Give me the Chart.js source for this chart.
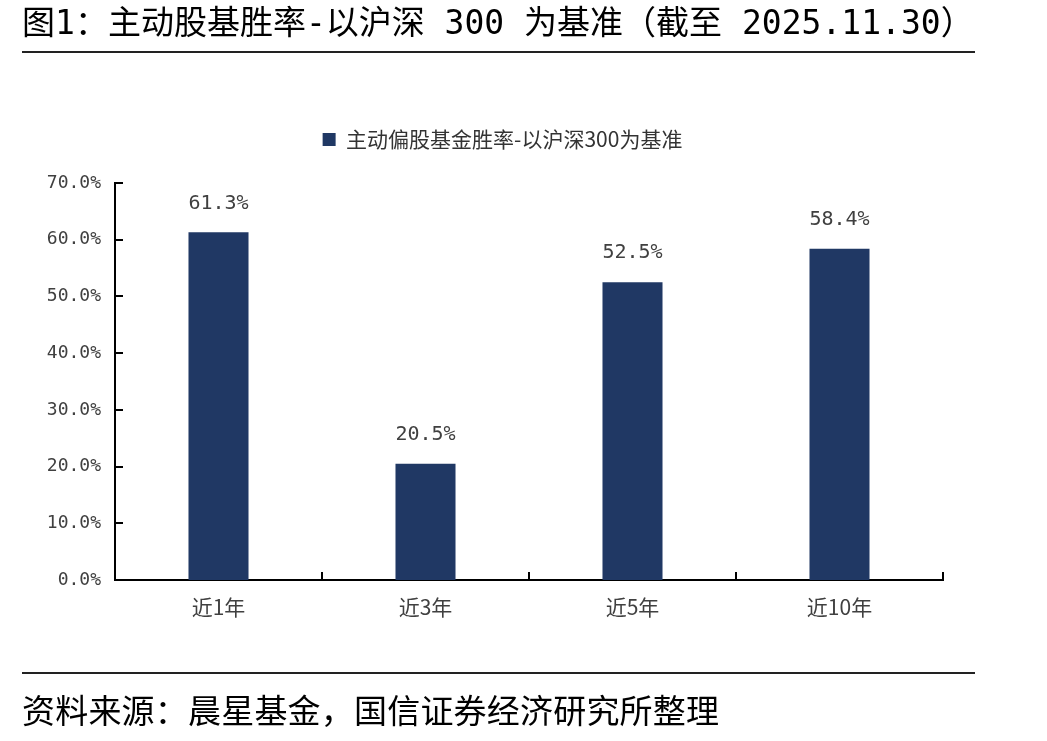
<!DOCTYPE html>
<html>
<head>
<meta charset="utf-8">
<script src="https://cdn.jsdelivr.net/npm/chart.js@4/dist/chart.umd.min.js"></script>
<style>
  html, body { margin:0; padding:0; background:#fff; }
  #wrap { position:relative; width:1047px; height:741px; overflow:hidden; background:#fff; }
  #c { position:absolute; left:0; top:0; }
  .title { position:absolute; left:22px; top:4px; font-family:"Noto Sans CJK SC","Noto Sans",sans-serif; font-size:33px; line-height:33px; color:#000; white-space:nowrap; }
  .title .m { font-family:"DejaVu Sans Mono","Liberation Mono",monospace; white-space:pre; }
  .foot { position:absolute; left:22px; top:693px; font-family:"Noto Sans CJK SC","Noto Sans",sans-serif; font-size:33px; line-height:33px; color:#000; white-space:nowrap; letter-spacing:0.2px; }
  .rule { position:absolute; left:22px; width:953px; height:2px; background:#222; }
</style>
</head>
<body>
<div id="wrap">
  <canvas id="c" width="1047" height="741"></canvas>
  <div class="title" id="title">图<span class="m">1</span>：主动股基胜率<span class="m">-</span>以沪深<span class="m"> 300 </span>为基准（截至<span class="m"> 2025.11.30</span>）</div>
  <div class="rule" style="top:51px"></div>
  <div class="rule" style="top:672px"></div>
  <div class="foot">资料来源：晨星基金，国信证券经济研究所整理</div>
</div>
<script>
const categories = ['近1年', '近3年', '近5年', '近10年'];
const winRate = [61.3, 20.5, 52.5, 58.4];
const seriesName = '主动偏股基金胜率-以沪深300为基准';
const yTicks = [0, 10, 20, 30, 40, 50, 60, 70];

const FONT = '"Noto Sans CJK SC","Noto Sans",sans-serif';
const MONO = '"DejaVu Sans Mono","Liberation Mono",monospace';
const BAR = '#203864';
const TXT = '#404040';

const legendGap = {
  id: 'legendGap',
  beforeLayout(chart) {
    const lg = chart.legend;
    if (lg && !lg._gapPatched) {
      const f = lg.fit;
      lg.fit = function () { f.call(this); this.height += 23; };
      lg._gapPatched = true;
    }
  },
  afterLayout(chart) {
    const lg = chart.legend;
    if (lg) { lg.left += 16; lg.right += 16; }
  }
};

const innerTicks = {
  id: 'innerTicks',
  afterDraw(chart) {
    const ctx = chart.ctx;
    const x = chart.scales.x, y = chart.scales.y;
    ctx.save();
    ctx.strokeStyle = '#000';
    ctx.lineWidth = 2;
    ctx.beginPath();
    y.ticks.forEach((t, i) => {
      const py = Math.round(y.getPixelForTick(i));
      ctx.moveTo(y.right, py);
      ctx.lineTo(y.right + 8, py);
    });
    const n = x.ticks.length;
    for (let i = 0; i < n; i++) {
      const next = i < n - 1 ? (x.getPixelForTick(i) + x.getPixelForTick(i + 1)) / 2 : x.right;
      const px = Math.round(next);
      ctx.moveTo(px, x.top);
      ctx.lineTo(px, x.top - 8);
    }
    ctx.stroke();
    ctx.restore();
  }
};

const barLabels = {
  id: 'barLabels',
  afterDatasetsDraw(chart) {
    const ctx = chart.ctx;
    const meta = chart.getDatasetMeta(0);
    ctx.save();
    ctx.font = '20px ' + MONO;
    ctx.fillStyle = TXT;
    ctx.textAlign = 'center';
    ctx.textBaseline = 'middle';
    meta.data.forEach((bar, i) => {
      ctx.fillText(winRate[i].toFixed(1) + '%', bar.x, bar.y - 29);
    });
    ctx.restore();
  }
};

new Chart(document.getElementById('c'), {
  type: 'bar',
  data: {
    labels: categories,
    datasets: [{
      label: seriesName,
      data: winRate,
      backgroundColor: BAR,
      borderWidth: 0,
      categoryPercentage: 1,
      barPercentage: 0.29
    }]
  },
  options: {
    responsive: false,
    animation: false,
    devicePixelRatio: 1,
    layout: { padding: { left: 30, right: 104, top: 119, bottom: 0 } },
    plugins: {
      legend: {
        display: true,
        position: 'top',
        labels: {
          font: { family: FONT, size: 21 },
          color: '#333',
          boxWidth: 13,
          boxHeight: 13,
          padding: 10
        }
      },
      tooltip: { enabled: false },
      title: { display: false }
    },
    scales: {
      x: {
        grid: { display: false, drawTicks: false },
        border: { display: true, color: '#000', width: 2 },
        ticks: { font: { family: FONT, size: 21 }, color: TXT, padding: 14 },
        afterFit(s) { s.height = 161; }
      },
      y: {
        min: 0, max: 70,
        afterBuildTicks(s) { s.ticks = yTicks.map(v => ({ value: v })); },
        grid: { display: false, drawTicks: false },
        border: { display: true, color: '#000', width: 2 },
        ticks: {
          font: { family: MONO, size: 18 },
          color: TXT,
          padding: 14,
          callback: v => Number(v).toFixed(1) + '%'
        },
        afterFit(s) { s.width = 85; }
      }
    }
  },
  plugins: [legendGap, innerTicks, barLabels]
});
</script>
</body>
</html>
